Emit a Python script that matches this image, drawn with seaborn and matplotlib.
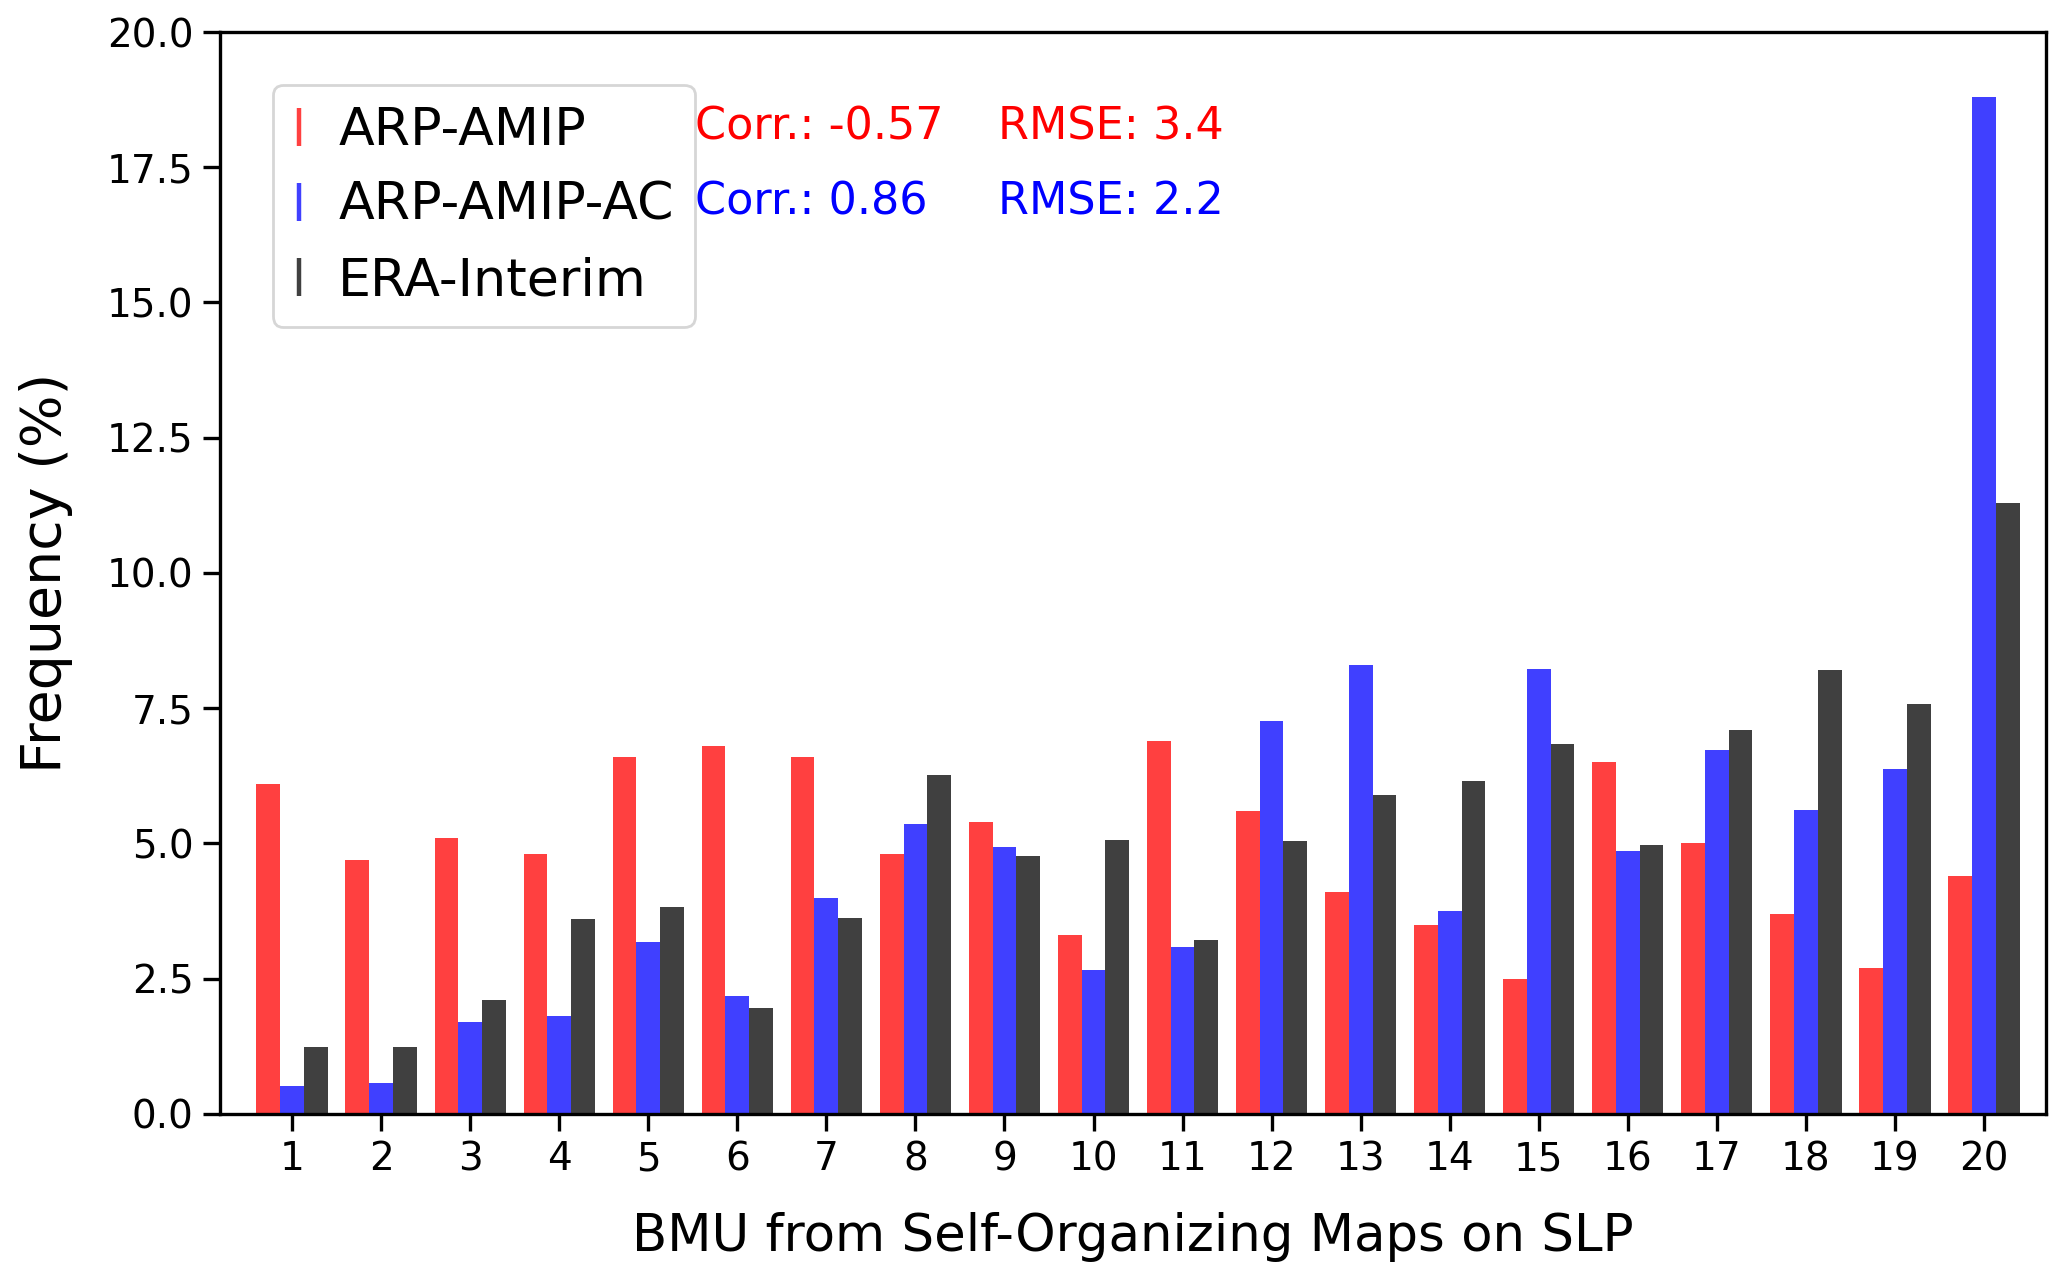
import numpy as np
import pandas as pd
import matplotlib
matplotlib.use("Agg")
import matplotlib.pyplot as plt
from matplotlib.lines import Line2D
import seaborn as sns

# BMU frequencies (%)
bmu = [str(i) for i in range(1, 21)]
arp_amip = [6.1, 4.7, 5.1, 4.8, 6.6, 6.8, 6.6, 4.8, 5.4, 3.3,
            6.9, 5.6, 4.1, 3.5, 2.5, 6.5, 5.0, 3.7, 2.7, 4.4]
arp_amip_ac = [0.52, 0.58, 1.70, 1.82, 3.17, 2.18, 4.00, 5.36, 4.93, 2.67,
               3.08, 7.27, 8.30, 3.76, 8.22, 4.86, 6.72, 5.62, 6.37, 18.8]
era_interim = [1.24, 1.24, 2.10, 3.61, 3.82, 1.95, 3.62, 6.26, 4.77, 5.07,
               3.21, 5.05, 5.90, 6.15, 6.84, 4.97, 7.10, 8.20, 7.58, 11.3]
names = ["ARP-AMIP", "ARP-AMIP-AC", "ERA-Interim"]
colors = ["#ff4040", "#4040ff", "#404040"]

df = pd.DataFrame({"bmu": bmu * 3,
                   "freq": arp_amip + arp_amip_ac + era_interim,
                   "dataset": np.repeat(names, len(bmu))})

sns.set_style("ticks")
plt.rcParams['font.family'] = ['DejaVu Sans']
plt.rcParams.update({"text.color": "black", "axes.labelcolor": "black",
                     "xtick.color": "black", "ytick.color": "black"})

fig = plt.figure(figsize=(10.335, 6.4), dpi=200)
ax = fig.add_axes([0.1064, 0.1297, 0.8836, 0.8453])

sns.barplot(data=df, x="bmu", y="freq", hue="dataset", palette=colors,
            width=0.8, saturation=1, legend=False, linewidth=0, ax=ax)

ax.set_ylim(0, 20)
ax.set_xlim(-0.81, 19.7)
ax.set_yticks(np.arange(0, 20.1, 2.5))
ax.set_yticklabels([f"{v:.1f}" for v in np.arange(0, 20.1, 2.5)])
ax.tick_params(labelsize=14, length=6, width=1.2, color="black")
for s in ax.spines.values():
    s.set_linewidth(1.2)
    s.set_color("black")
ax.set_xlabel("BMU from Self-Organizing Maps on SLP", fontsize=18.5, labelpad=12)
ax.set_ylabel("Frequency (%)", fontsize=20, labelpad=12)

handles = [Line2D([], [], marker="|", linestyle="None", markersize=14,
                  markeredgewidth=1.6, color=c) for c in colors]
ax.legend(handles, names, loc="upper left", bbox_to_anchor=(0.029, 0.951),
          fontsize=18.8, handlelength=0.2, handletextpad=0.65, borderpad=0.4,
          borderaxespad=0, labelspacing=0.48)

ax.text(0.26, 0.912, "Corr.: -0.57", color="red", fontsize=16,
        transform=ax.transAxes, va="center")
ax.text(0.426, 0.912, "RMSE: 3.4", color="red", fontsize=16,
        transform=ax.transAxes, va="center")
ax.text(0.26, 0.843, "Corr.: 0.86", color="blue", fontsize=16,
        transform=ax.transAxes, va="center")
ax.text(0.426, 0.843, "RMSE: 2.2", color="blue", fontsize=16,
        transform=ax.transAxes, va="center")

fig.savefig("out.png", dpi=200)
